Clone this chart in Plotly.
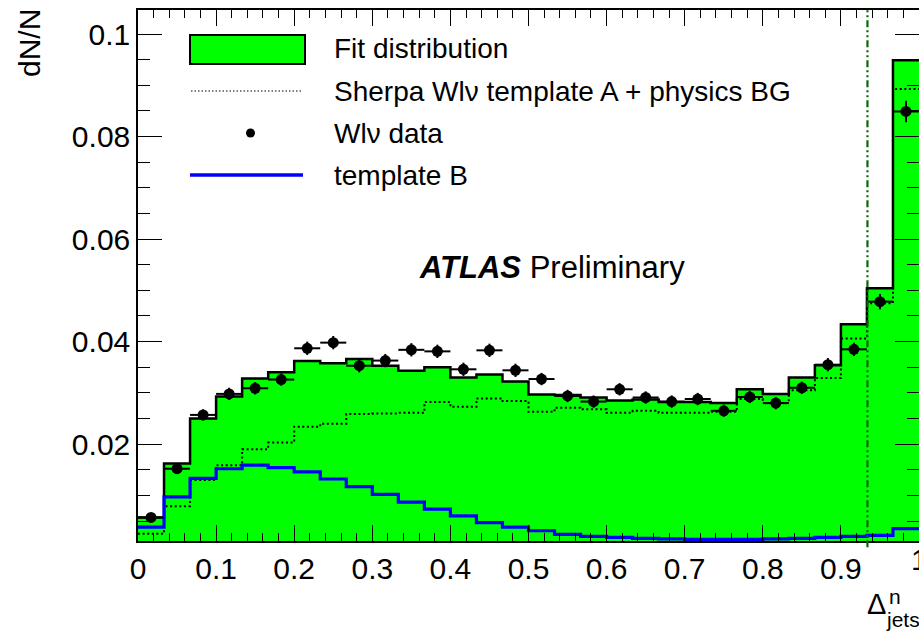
import numpy as np
import plotly.graph_objects as go

# ---------------- data ----------------
n_bins = 30
x_lo, x_hi = 0.0, 1.0

fit_distribution = [0.0057, 0.0162, 0.0250, 0.0293, 0.0328, 0.0340, 0.0362, 0.0358, 0.0366, 0.0353,
                    0.0343, 0.0350, 0.0330, 0.0336, 0.0322, 0.0297, 0.0296, 0.0291, 0.0285, 0.0287,
                    0.0282, 0.0282, 0.0280, 0.0307, 0.0298, 0.0330, 0.0354, 0.0434, 0.0504, 0.0949]

template_a_bg = [0.0025, 0.0079, 0.0130, 0.0159, 0.0190, 0.0203, 0.0234, 0.0240, 0.0259, 0.0260,
                 0.0261, 0.0282, 0.0273, 0.0289, 0.0284, 0.0263, 0.0271, 0.0268, 0.0261, 0.0265,
                 0.0261, 0.0261, 0.0263, 0.0288, 0.0280, 0.0305, 0.0329, 0.0406, 0.0475, 0.0893]

template_b = [0.0038, 0.0097, 0.0133, 0.0152, 0.0159, 0.0154, 0.0146, 0.0132, 0.0117, 0.0102,
              0.0087, 0.0073, 0.0060, 0.0047, 0.0038, 0.0031, 0.0024, 0.0020, 0.0018, 0.0016,
              0.0015, 0.0014, 0.0014, 0.0014, 0.0015, 0.0016, 0.0018, 0.0020, 0.0022, 0.0035]

wlnu_data = [0.0057, 0.0152, 0.0257, 0.0298, 0.0309, 0.0326, 0.0387, 0.0398, 0.0353, 0.0363,
             0.0384, 0.0381, 0.0346, 0.0383, 0.0344, 0.0327, 0.0294, 0.0283, 0.0307, 0.0291,
             0.0283, 0.0288, 0.0265, 0.0292, 0.0280, 0.0310, 0.0355, 0.0385, 0.0478, 0.0849]

wlnu_err = [0.0008, 0.0010, 0.0011, 0.0012, 0.0012, 0.0012, 0.0013, 0.0013, 0.0013, 0.0013,
            0.0013, 0.0013, 0.0013, 0.0013, 0.0013, 0.0012, 0.0012, 0.0012, 0.0012, 0.0012,
            0.0012, 0.0012, 0.0012, 0.0012, 0.0012, 0.0012, 0.0013, 0.0013, 0.0015, 0.0021]

cut_value = 0.934

x_tick_vals = [0, 0.1, 0.2, 0.3, 0.4, 0.5, 0.6, 0.7, 0.8, 0.9, 1.0]
x_tick_text = ["0", "0.1", "0.2", "0.3", "0.4", "0.5", "0.6", "0.7", "0.8", "0.9", "1"]
y_tick_vals = [0.02, 0.04, 0.06, 0.08, 0.1]
y_tick_text = ["0.02", "0.04", "0.06", "0.08", "0.1"]

legend_labels = ["Fit distribution", "Sherpa Wl\u03bd template A + physics BG", "Wl\u03bd data", "template B"]

# ---------------- geometry ----------------
W, H = 919, 633
ML, MR, MT, MB = 138, 0, 10, 92
PW = W - ML - MR
PH = H - MT - MB

def px(xp):
    return (xp - ML) / PW

def py(yp):
    return (H - MB - yp) / PH

edges = np.linspace(x_lo, x_hi, n_bins + 1)
centers = 0.5 * (edges[:-1] + edges[1:])
half_w = (edges[1] - edges[0]) / 2

def step(vals):
    return list(edges), list(vals) + [vals[-1]]

FONT = "Liberation Sans, Arial, Helvetica, sans-serif"

fig = go.Figure()

sx, sy = step(fit_distribution)
fig.add_trace(go.Scatter(x=sx, y=sy, mode="lines", line=dict(shape="hv", color="black", width=2.5),
                         fill="tozeroy", fillcolor="#00ff00", showlegend=False, hoverinfo="skip"))

sx, sy = step(template_a_bg)
fig.add_trace(go.Scatter(x=sx, y=sy, mode="lines", line=dict(shape="hv", color="black", width=2, dash="2px,2.6px"),
                         showlegend=False, hoverinfo="skip"))

sx, sy = step(template_b)
fig.add_trace(go.Scatter(x=sx, y=sy, mode="lines", line=dict(shape="hv", color="#0000ff", width=3.2),
                         showlegend=False, hoverinfo="skip"))

fig.add_trace(go.Scatter(x=centers, y=wlnu_data, mode="markers",
                         marker=dict(color="black", size=11),
                         error_y=dict(type="data", array=wlnu_err, color="black", thickness=2, width=0),
                         error_x=dict(type="constant", value=half_w, color="black", thickness=2, width=0),
                         showlegend=False, hoverinfo="skip"))

shapes = []
# cut line
shapes.append(dict(type="line", xref="x", yref="paper", x0=cut_value, x1=cut_value, y0=-0.012, y1=1,
                   line=dict(color="#0a650a", width=2.2, dash="7px,3px,2px,3px,2px,3px"), layer="above"))
# legend symbols
shapes.append(dict(type="rect", xref="paper", yref="paper", x0=px(190), x1=px(305), y0=py(64), y1=py(35),
                   fillcolor="#00ff00", line=dict(color="black", width=2), layer="above"))
shapes.append(dict(type="line", xref="paper", yref="paper", x0=px(191), x1=px(303), y0=py(91), y1=py(91),
                   line=dict(color="black", width=1.2, dash="1.5px,2px"), layer="above"))
shapes.append(dict(type="circle", xref="paper", yref="paper", x0=px(246), x1=px(255), y0=py(137.5), y1=py(128.5),
                   fillcolor="black", line=dict(color="black", width=0), layer="above"))
shapes.append(dict(type="line", xref="paper", yref="paper", x0=px(190), x1=px(303), y0=py(175), y1=py(175),
                   line=dict(color="#0000ff", width=3.5), layer="above"))

annotations = []
for lbl, yy in zip(legend_labels, [49, 91, 133, 175]):
    annotations.append(dict(text=lbl, xref="paper", yref="paper", x=px(332), y=py(yy),
                            xanchor="left", yanchor="middle", showarrow=False,
                            font=dict(family=FONT, size=28, color="black")))
annotations.append(dict(text="<b><i>ATLAS</i></b> Preliminary", xref="paper", yref="paper",
                        x=px(417), y=py(267), xanchor="left", yanchor="middle", showarrow=False,
                        font=dict(family=FONT, size=31, color="black")))
annotations.append(dict(text="dN/N", xref="paper", yref="paper", x=px(30), y=py(43), textangle=-90,
                        xanchor="center", yanchor="middle", showarrow=False,
                        font=dict(family=FONT, size=30, color="black")))
annotations.append(dict(text="\u0394", xref="paper", yref="paper", x=px(876), y=py(604),
                        xanchor="center", yanchor="middle", showarrow=False,
                        font=dict(family=FONT, size=29, color="black")))
annotations.append(dict(text="n", xref="paper", yref="paper", x=px(887), y=py(596),
                        xanchor="left", yanchor="middle", showarrow=False,
                        font=dict(family=FONT, size=21, color="black")))
annotations.append(dict(text="jets", xref="paper", yref="paper", x=px(884), y=py(619),
                        xanchor="left", yanchor="middle", showarrow=False,
                        font=dict(family=FONT, size=21, color="black")))
# last x tick label sits on the (cropped) right edge
annotations.append(dict(text=x_tick_text[-1], xref="x", yref="paper", x=x_tick_vals[-1], y=py(559),
                        xanchor="center", yanchor="middle", showarrow=False,
                        font=dict(family=FONT, size=30, color="black")))

fig.update_layout(
    width=W, height=H,
    margin=dict(l=ML, r=MR, t=MT, b=MB, pad=0, autoexpand=False),
    paper_bgcolor="white", plot_bgcolor="white",
    font=dict(family=FONT, size=30, color="black"),
    shapes=shapes, annotations=annotations, showlegend=False,
    xaxis=dict(range=[x_lo, x_hi], tickvals=x_tick_vals, ticktext=x_tick_text, automargin=False,
               ticks="inside", ticklen=16, tickwidth=1, tickcolor="black",
               minor=dict(dtick=0.02, tick0=0, ticks="inside", ticklen=8, tickwidth=1, tickcolor="black"),
               showline=True, linecolor="black", linewidth=1.5, mirror="ticks",
               showgrid=False, zeroline=False, tickfont=dict(size=30), layer="above traces"),
    yaxis=dict(range=[0.0011, 0.1047], tickvals=y_tick_vals, ticktext=y_tick_text, automargin=False,
               ticks="inside", ticklen=24, tickwidth=1, tickcolor="black",
               minor=dict(dtick=0.005, tick0=0, ticks="inside", ticklen=12, tickwidth=1, tickcolor="black"),
               showline=True, linecolor="black", linewidth=1.5, mirror="ticks",
               showgrid=False, zeroline=False, tickfont=dict(size=30), layer="above traces"),
)

fig.write_html("out.html", config={"displayModeBar": False},
               post_script="document.body.style.margin='0';document.body.style.overflow='hidden';")
